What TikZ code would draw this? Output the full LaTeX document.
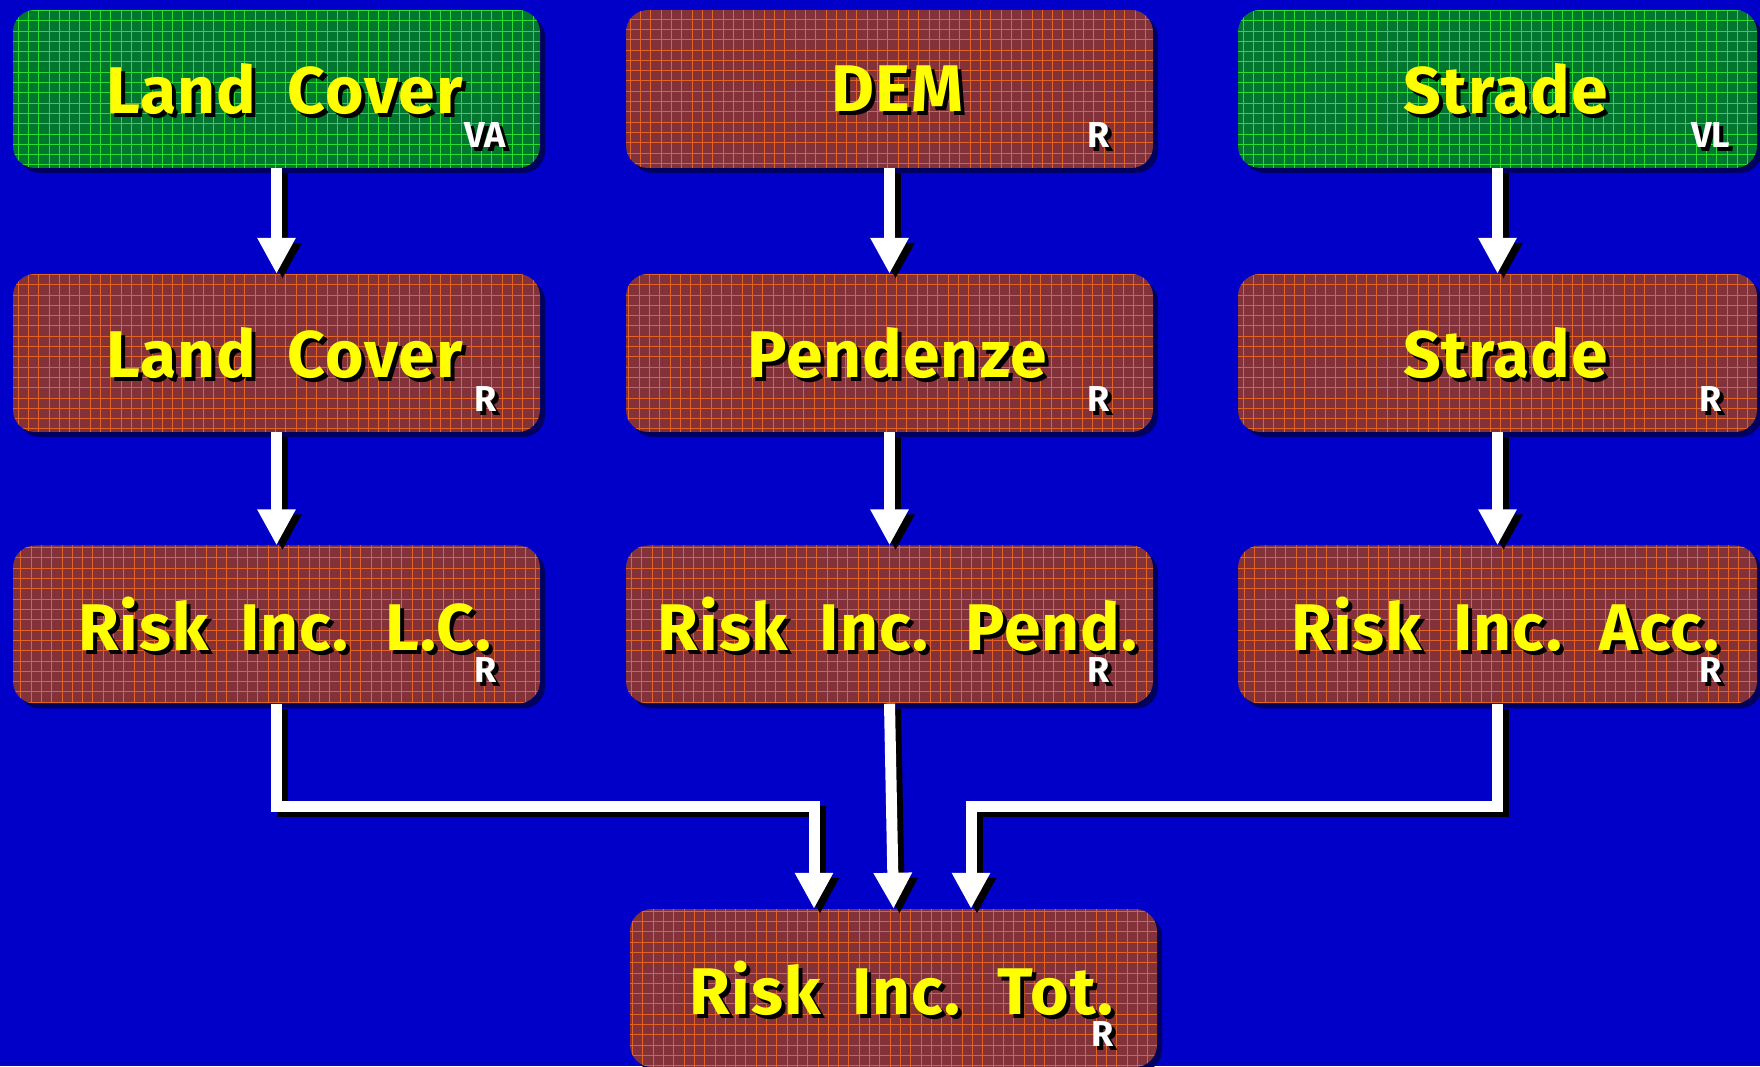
\documentclass[tikz,border=0pt]{standalone}
\usepackage{fontspec}
\setmainfont{Fira Sans}
\newfontfamily\boxfont{Fira Sans}[LetterSpace=1.5,WordSpace=1.9]
\usetikzlibrary{arrows.meta}
\usetikzlibrary{shadows}
\definecolor{bgblue}{RGB}{0,0,200}
\definecolor{shblue}{RGB}{0,0,95}
\definecolor{rastbrown}{RGB}{132,50,58}
\definecolor{rastgrid}{RGB}{226,100,36}
\definecolor{vecgreen}{RGB}{0,118,46}
\definecolor{vecgrid}{RGB}{40,220,50}
\definecolor{txtyellow}{RGB}{255,255,0}
% text with a black shadow below right
\newcommand{\sht}[1]{\makebox[0pt][l]{\hspace*{4pt}\raisebox{-4pt}[0pt][0pt]{\color{black}#1}}#1}
\tikzset{
  layer/.style={rounded corners=22pt, minimum width=527pt, minimum height=158pt, inner sep=0pt,
    text=txtyellow, font=\boxfont\bfseries\fontsize{66}{70}\selectfont,
    execute at begin node=\hspace*{16pt},
    drop shadow={shadow xshift=5pt, shadow yshift=-5pt, fill=shblue, opacity=1}},
  raster/.style={layer, fill=rastbrown, path picture={
    \draw[rastgrid, line width=1pt] (path picture bounding box.south west) grid[step=10.3] (path picture bounding box.north east);}},
  vector/.style={layer, fill=vecgreen, path picture={
    \draw[vecgrid, line width=1pt] (path picture bounding box.south west) grid[step=10.3] (path picture bounding box.north east);}},
  tag/.style={anchor=base, text=white, inner sep=0pt, font=\bfseries\fontsize{36}{38}\selectfont},
}

\begin{document}
\begin{tikzpicture}[x=1pt,y=1pt]
    \useasboundingbox (0,0) rectangle (1760,1066);
    \fill[bgblue] (0,0) rectangle (1760,1066);
    % sources
    \node[vector] (lcv) at (276.5,977) {\sht{Land Cover}};
    \node[raster] (dem) at (889.5,977) {\sht{DEM}};
    \node[vector,minimum width=519pt] (strv) at (1497.5,977) {\sht{Strade}};
    % rasters
    \node[raster] (lcr) at (276.5,713) {\sht{Land Cover}};
    \node[raster] (pend) at (889.5,713) {\sht{Pendenze}};
    \node[raster,minimum width=519pt] (strr) at (1497.5,713) {\sht{Strade}};
    % risk maps
    \node[raster] (rlc) at (276.5,441.5) {\sht{Risk Inc. L.C.}};
    \node[raster] (rpend) at (889.5,441.5) {\sht{Risk Inc. Pend.}};
    \node[raster,minimum width=519pt] (racc) at (1497.5,441.5) {\sht{Risk Inc. Acc.}};
    \node[raster] (rtot) at (893.5,78) {\sht{Risk Inc. Tot.}};
    % format tags
    \node[tag] (tlcv) at ([shift={(209,21)}]lcv.south) {\sht{VA}};
    \node[tag] (tdem) at ([shift={(209,21)}]dem.south) {\sht{R}};
    \node[tag] (tstrv) at ([shift={(213,21)}]strv.south) {\sht{VL}};
    \node[tag] (tlcr) at ([shift={(209,21)}]lcr.south) {\sht{R}};
    \node[tag] (tpend) at ([shift={(209,21)}]pend.south) {\sht{R}};
    \node[tag] (tstrr) at ([shift={(213,21)}]strr.south) {\sht{R}};
    \node[tag] (trlc) at ([shift={(209,21)}]rlc.south) {\sht{R}};
    \node[tag] (trpend) at ([shift={(209,21)}]rpend.south) {\sht{R}};
    \node[tag] (tracc) at ([shift={(213,21)}]racc.south) {\sht{R}};
    \node[tag] (trtot) at ([shift={(209,21)}]rtot.south) {\sht{R}};
    \coordinate (bus) at (0,260);
    \coordinate (inl) at ([xshift=-79.5]rtot.north);
    \coordinate (inr) at ([xshift=77.5]rtot.north);
    % arrows, shadow first
    \foreach \ink/\dx/\dy in {black/6/-5, white/0/0} {
      \begin{scope}[transform canvas={shift={(\dx pt,\dy pt)}}, color=\ink, line width=11pt,
          -{Triangle[length=36pt,width=36pt]}]
        \draw (lcv.south) -- (lcr.north);
        \draw (dem.south) -- (pend.north);
        \draw (strv.south) -- (strr.north);
        \draw (lcr.south) -- (rlc.north);
        \draw (pend.south) -- (rpend.north);
        \draw (strr.south) -- (racc.north);
        \draw (rlc.south) |- (inl |- bus) -- (inl);
        \draw (rpend.south) -- (rtot.north);
        \draw (racc.south) |- (inr |- bus) -- (inr);
      \end{scope}
    }
\end{tikzpicture}
\end{document}
